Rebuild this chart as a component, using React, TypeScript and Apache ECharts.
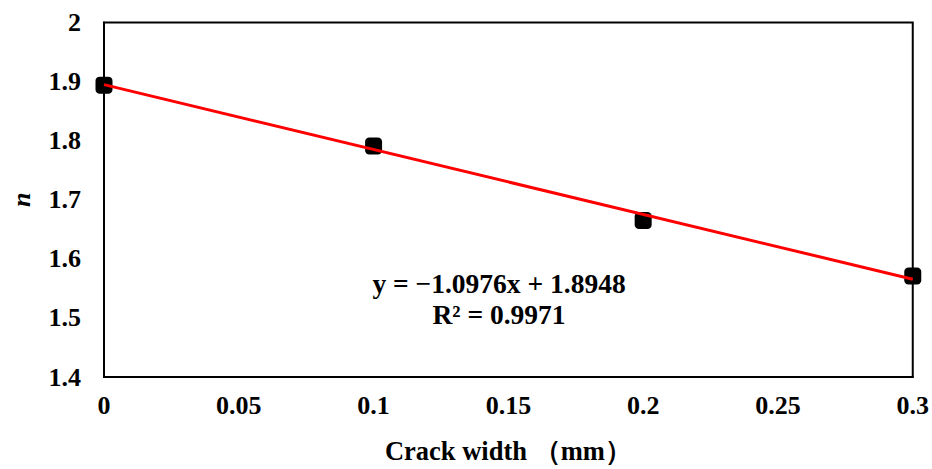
import React, { useEffect, useRef } from "react";
import * as echarts from "echarts";

// Measured points: crack width (mm) vs exponent n
const crackWidth = [0, 0.1, 0.2, 0.3];
const nValues = [1.894, 1.791, 1.665, 1.571];

// Linear trendline coefficients as printed on the chart
const slope = -1.0976;
const intercept = 1.8948;
const rSquared = 0.9971;

const xTicks = [0, 0.05, 0.1, 0.15, 0.2, 0.25, 0.3];
const yTicks = [1.4, 1.5, 1.6, 1.7, 1.8, 1.9, 2];

const FONT = "'Liberation Serif', 'Times New Roman', serif";

export default function App() {
  const ref = useRef<HTMLDivElement>(null);

  useEffect(() => {
    if (!ref.current) return;
    document.body.style.margin = "0";
    const chart = echarts.init(ref.current, undefined, { renderer: "svg" });

    const xMin = xTicks[0];
    const xMax = xTicks[xTicks.length - 1];
    const trend = [
      [xMin, slope * xMin + intercept],
      [xMax, slope * xMax + intercept],
    ];

    const eq1 = `y = \u2212${Math.abs(slope).toFixed(4)}x + ${intercept.toFixed(4)}`;
    const eq2 = `R\u00b2 = ${rSquared.toFixed(4)}`;

    chart.setOption({
      animation: false,
      backgroundColor: "#ffffff",
      grid: {
        left: 98.5,
        right: 16.5,
        top: 22.5,
        bottom: 86.5,
        show: true,
        borderColor: "#000000",
        borderWidth: 2,
      },
      xAxis: {
        type: "value",
        min: xMin,
        max: xMax,
        interval: 0.05,
        name: "Crack width \uff08mm\uff09",
        nameLocation: "middle",
        nameGap: 60,
        nameTextStyle: {
          fontFamily: FONT,
          fontWeight: "bold",
          fontSize: 26.5,
          color: "#000",
        },
        axisLine: { show: true, lineStyle: { color: "#000", width: 2 } },
        axisTick: { show: false },
        splitLine: { show: false },
        axisLabel: {
          fontFamily: FONT,
          fontWeight: "bold",
          fontSize: 26,
          color: "#000",
          margin: 15,
          formatter: (v: number) => String(parseFloat(v.toFixed(2))),
        },
      },
      yAxis: {
        type: "value",
        min: yTicks[0],
        max: yTicks[yTicks.length - 1],
        interval: 0.1,
        name: "n",
        nameLocation: "middle",
        nameGap: 70,
        nameTextStyle: {
          fontFamily: FONT,
          fontWeight: "bold",
          fontStyle: "italic",
          fontSize: 26,
          color: "#000",
        },
        axisLine: { show: true, lineStyle: { color: "#000", width: 2 } },
        axisTick: { show: false },
        splitLine: { show: false },
        axisLabel: {
          fontFamily: FONT,
          fontWeight: "bold",
          fontSize: 26,
          color: "#000",
          margin: 23,
          formatter: (v: number) => String(parseFloat(v.toFixed(1))),
        },
      },
      graphic: [
        {
          type: "text",
          x: 499,
          y: 283.5,
          style: {
            text: eq1,
            fontFamily: FONT,
            fontWeight: "bold",
            fontSize: 27.5,
            fill: "#000",
            align: "center",
            verticalAlign: "middle",
          },
        },
        {
          type: "text",
          x: 499,
          y: 314.5,
          style: {
            text: eq2,
            fontFamily: FONT,
            fontWeight: "bold",
            fontSize: 27.5,
            fill: "#000",
            align: "center",
            verticalAlign: "middle",
          },
        },
      ],
      series: [
        {
          type: "scatter",
          data: crackWidth.map((x, i) => [x, nValues[i]]),
          symbol: "roundRect",
          symbolSize: 17,
          itemStyle: { color: "#000000", opacity: 1 },
          z: 2,
        },
        {
          type: "line",
          data: trend,
          showSymbol: false,
          symbol: "none",
          lineStyle: { color: "#ff0000", width: 3 },
          z: 3,
        },
      ],
    });

    return () => chart.dispose();
  }, []);

  return <div ref={ref} style={{ width: 932, height: 469 }} />;
}
